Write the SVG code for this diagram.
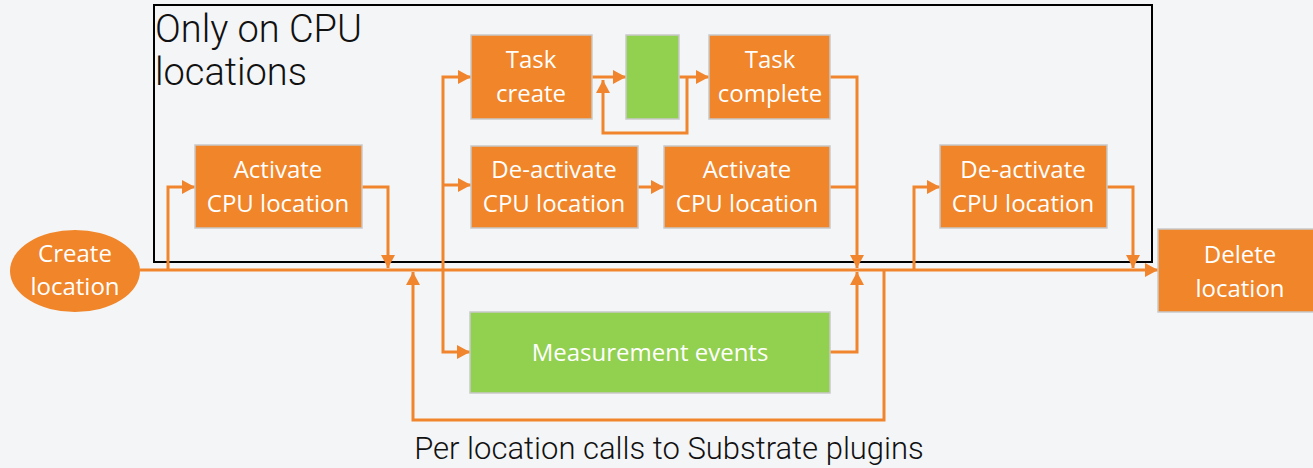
<svg xmlns="http://www.w3.org/2000/svg" width="1313" height="468" viewBox="0 0 1313 468">
<style>
.box{fill:#F0852A;stroke:#C9C9C9;stroke-width:1.5}
.green{fill:#92D050;stroke:#C9C9C9;stroke-width:1.5}
.bt{font-family:"Open Sans","Liberation Sans",sans-serif;font-size:24px;fill:#FFFFFF;text-anchor:middle}
.ln{fill:none;stroke:#F0852D;stroke-width:3}
.lbl{font-family:Roboto,"Liberation Sans",sans-serif;font-weight:300;fill:#111111}
</style>
<defs>
<marker id="ah" markerUnits="userSpaceOnUse" markerWidth="14" markerHeight="14" refX="13" refY="7" orient="auto">
<path d="M0,0 L13,7 L0,14 z" fill="#F0852D"/>
</marker>
</defs>
<rect width="1313" height="468" fill="#F4F5F7"/>
<g id="region">
<rect x="154" y="5" width="998" height="257" fill="none" stroke="#000" stroke-width="2"/>
<text class="lbl" x="155" y="42" font-size="38">Only on CPU</text>
<text class="lbl" x="155" y="85" font-size="38">locations</text>
</g>
<g id="connectors">
<path class="ln" d="M140,270 H1158" marker-end="url(#ah)"/>
<path class="ln" d="M168,270 V187 H195" marker-end="url(#ah)"/>
<path class="ln" d="M362,187 H388 V268" marker-end="url(#ah)"/>
<path class="ln" d="M443,270 V77 H471" marker-end="url(#ah)"/>
<path class="ln" d="M443,185 H471" marker-end="url(#ah)"/>
<path class="ln" d="M443,270 V352 H470" marker-end="url(#ah)"/>
<path class="ln" d="M592,77 H626" marker-end="url(#ah)"/>
<path class="ln" d="M679,77 H709" marker-end="url(#ah)"/>
<path class="ln" d="M687,77 V133 H603 V80" marker-end="url(#ah)"/>
<path class="ln" d="M638,187 H664" marker-end="url(#ah)"/>
<path class="ln" d="M830,77 H857 V268" marker-end="url(#ah)"/>
<path class="ln" d="M830,187 H857"/>
<path class="ln" d="M830,352 H857 V272" marker-end="url(#ah)"/>
<path class="ln" d="M884,270 V420 H413 V272" marker-end="url(#ah)"/>
<path class="ln" d="M914,270 V187 H940" marker-end="url(#ah)"/>
<path class="ln" d="M1107,187 H1133 V268" marker-end="url(#ah)"/>
</g>
<g id="create-location">
<ellipse cx="75" cy="271" rx="65" ry="41" fill="#F0852A"/>
<text class="bt" x="75" y="262">Create</text>
<text class="bt" x="75" y="295">location</text>
</g>
<g id="activate-cpu-1">
<rect class="box" x="195" y="145" width="167" height="83"/>
<text class="bt" x="278" y="178">Activate</text>
<text class="bt" x="278" y="212">CPU location</text>
</g>
<g id="task-create">
<rect class="box" x="471" y="35" width="121" height="84"/>
<text class="bt" x="531" y="68">Task</text>
<text class="bt" x="531" y="102">create</text>
</g>
<g id="task-running">
<rect class="green" x="626" y="35" width="53" height="84"/>
</g>
<g id="task-complete">
<rect class="box" x="709" y="35" width="121" height="84"/>
<text class="bt" x="770" y="68">Task</text>
<text class="bt" x="770" y="102">complete</text>
</g>
<g id="deactivate-cpu-1">
<rect class="box" x="471" y="146" width="167" height="82"/>
<text class="bt" x="554" y="178">De-activate</text>
<text class="bt" x="554" y="212">CPU location</text>
</g>
<g id="activate-cpu-2">
<rect class="box" x="664" y="146" width="166" height="82"/>
<text class="bt" x="747" y="178">Activate</text>
<text class="bt" x="747" y="212">CPU location</text>
</g>
<g id="measurement-events">
<rect class="green" x="470" y="312" width="360" height="81"/>
<text class="bt" x="650" y="361">Measurement events</text>
</g>
<g id="deactivate-cpu-2">
<rect class="box" x="940" y="145" width="167" height="83"/>
<text class="bt" x="1023" y="178">De-activate</text>
<text class="bt" x="1023" y="212">CPU location</text>
</g>
<g id="delete-location">
<rect class="box" x="1158" y="229" width="160" height="83"/>
<text class="bt" x="1240" y="263">Delete</text>
<text class="bt" x="1240" y="297">location</text>
</g>
<g id="caption">
<text class="lbl" x="669" y="459" font-size="31" text-anchor="middle">Per location calls to Substrate plugins</text>
</g>
</svg>
